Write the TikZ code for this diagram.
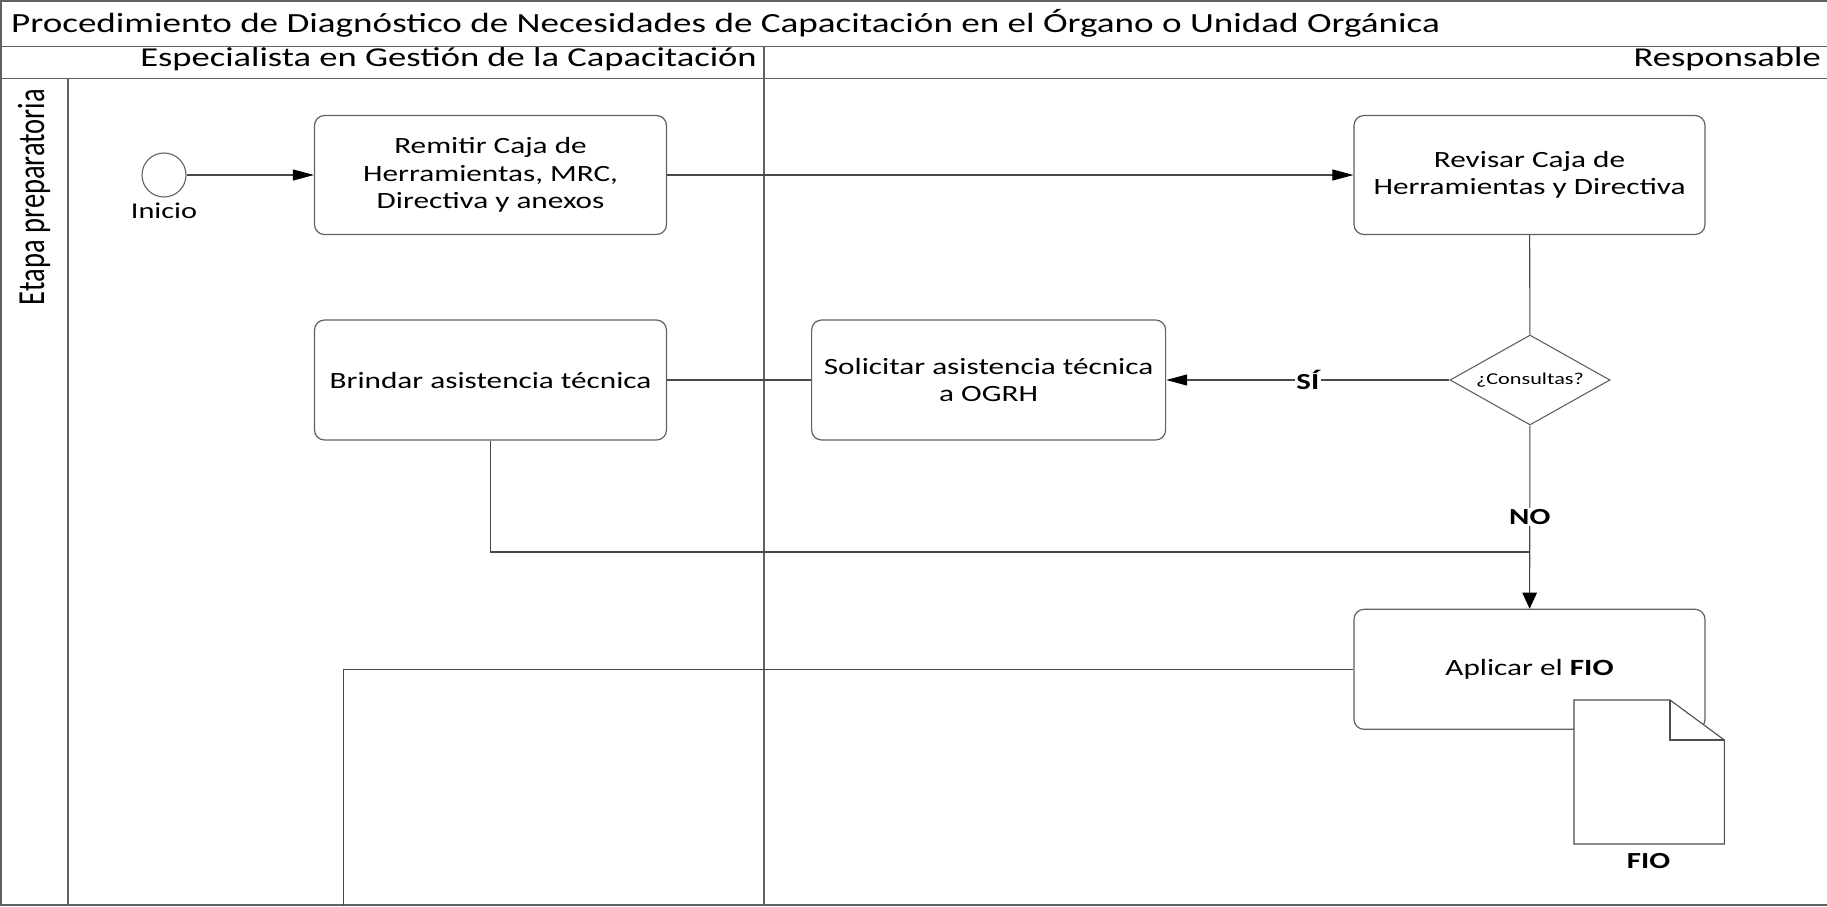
\documentclass[tikz,border=0pt]{standalone}
\usepackage{fontspec}
\setmainfont{Carlito}
\usetikzlibrary{arrows.meta,shapes.geometric}
\newcommand{\sx}[1]{\scalebox{1.34}[1]{#1}}
\begin{document}
\begin{tikzpicture}[x=1pt,y=-1pt,
  frame/.style={draw=black!62, line width=1.4pt},
  task/.style={draw=black!62, line width=1.2pt, rounded corners=10pt, fill=white, inner sep=0pt, align=center, font=\fontsize{23.3}{27.5}\selectfont, minimum width=352pt, minimum height=119pt},
  conn/.style={draw=black!72, line width=1.1pt},
  harr/.style={conn, -{Triangle[length=21pt,width=11pt,color=black]}},
  varr/.style={conn, -{Triangle[length=16pt,width=14.5pt,color=black]}},
  lbl/.style={fill=white, inner sep=1.5pt, font=\fontsize{23}{26}\selectfont\bfseries},
  lanetext/.style={inner sep=0pt, font=\fontsize{27.3}{32}\selectfont},
]
\useasboundingbox (0,0) rectangle (1827,906);
\fill[white] (0,0) rectangle (1827,906);

% pool frame
\draw[frame] (0,1) -- (1827,1);
\draw[frame] (1,0) -- (1,906);
\draw[frame] (0,905) -- (1827,905);
\draw[frame] (0,46.5) -- (1827,46.5);
\draw[frame] (0,78.5) -- (1827,78.5);
\draw[frame] (764,46.5) -- (764,906);
\draw[frame] (68,78.5) -- (68,906);

% titles
\node[lanetext, anchor=base west, font=\fontsize{27.7}{33}\selectfont] (title) at (11,32)
  {\sx{Procedimiento de Diagnóstico de Necesidades de Capacitación en el Órgano o Unidad Orgánica}};
\node[lanetext, anchor=base east] (lane1) at (757,66.5) {\sx{Especialista en Gestión de la Capacitación}};
\node[lanetext, anchor=base east] (lane2) at (1821,66.5) {\sx{Responsable}};
\node[inner sep=0pt, rotate=90, font=\fontsize{28.5}{32}\selectfont] (phase) at (34,197)
  {\scalebox{1}[1.34]{Etapa preparatoria}};

% tasks
\node[circle, draw=black!62, line width=1.1pt, minimum size=44pt, inner sep=0pt] (start) at (164,175) {};
\node[inner sep=0pt, font=\fontsize{22.6}{26}\selectfont] (inicio) at (164,211) {\sx{Inicio}};

\node[task] (remitir) at (490.5,175) {\sx{Remitir Caja de}\\\sx{Herramientas, MRC,}\\\sx{Directiva y anexos}};
\node[task, minimum width=351pt] (revisar) at (1529.5,175) {\sx{Revisar Caja de}\\\sx{Herramientas y Directiva}};
\node[task, minimum height=120pt] (brindar) at (490.5,380) {\sx{Brindar asistencia técnica}};
\node[task, minimum width=354pt, minimum height=120pt] (solicitar) at (988.6,380) {\sx{Solicitar asistencia técnica}\\\sx{a OGRH}};
\node[diamond, aspect=1.76, draw=black!62, line width=1.1pt, fill=white, inner sep=0pt, minimum width=160pt, minimum height=90pt, font=\fontsize{16.6}{20}\selectfont] (dec) at (1530,380) {\sx{¿Consultas?}};
\node[task, minimum width=351pt, minimum height=120pt] (aplicar) at (1529.5,669.3) {\sx{Aplicar el \textbf{FIO}}};

\coordinate (join) at (1530,552);
\coordinate (down) at (343.7,906);

% connectors
\draw[harr] (start) -- (remitir);
\draw[harr] (remitir) -- (revisar);
\draw[conn] (revisar) -- (dec);
\draw[harr] (dec) -- node[lbl]{\sx{SÍ}} (solicitar);
\draw[conn] (solicitar) -- (brindar);
\draw[varr] (dec) -- node[lbl, pos=0.5]{\sx{NO}} (aplicar);
\draw[conn] (brindar) |- (join);
\draw[conn] (aplicar) -| (down);

% document FIO
\coordinate (doc) at (1574,700);
\draw[draw=black!70, line width=1.1pt, fill=white]
  (doc) -- ++(96,0) -- ++(54.3,40) -- ++(0,104) -- ++(-150.3,0) -- cycle;
\draw[draw=black!70, line width=1.1pt] ([xshift=96pt]doc) -- ++(0,40) -- ++(54.3,0);
\node[inner sep=0pt, font=\fontsize{23}{26}\selectfont\bfseries] (fio) at (1648.5,861) {\sx{FIO}};
\end{tikzpicture}
\end{document}
